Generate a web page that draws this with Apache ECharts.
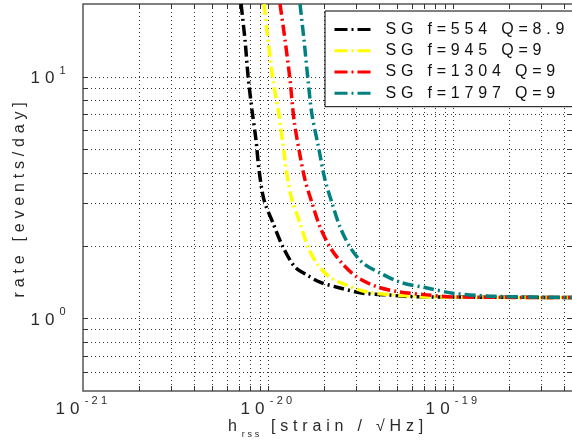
<!DOCTYPE html>
<html>
<head>
<meta charset="utf-8">
<script src="https://cdn.jsdelivr.net/npm/echarts@6/dist/echarts.min.js"></script>
<style>
html,body{margin:0;padding:0;background:#fff;}
#chart{width:572px;height:446px;}
</style>
</head>
<body>
<div id="chart"></div>
<script>
// ---- data ----
const seriesNames = ['SG f=554 Q=8.9', 'SG f=945 Q=9', 'SG f=1304 Q=9', 'SG f=1797 Q=9'];
const seriesColors = ['#000000', '#ffff00', '#ff0000', '#008080'];

const blackH = [7.15e-21, 7.51e-21, 7.80e-21, 8.19e-21, 8.61e-21, 8.94e-21, 9.51e-21, 1.064e-20, 1.205e-20, 1.399e-20, 1.625e-20, 1.910e-20, 2.450e-20, 3.263e-20, 4.398e-20, 5.641e-20, 9.63e-20, 4.45e-19];
const blackRate = [20.0, 14.2, 10.07, 7.28, 5.47, 4.11, 3.09, 2.48, 1.97, 1.63, 1.51, 1.41, 1.335, 1.27, 1.25, 1.231, 1.225, 1.219];

const yellowH = [9.51e-21, 1.0e-20, 1.064e-20, 1.147e-20, 1.205e-20, 1.267e-20, 1.348e-20, 1.489e-20, 1.645e-20, 1.864e-20, 2.163e-20, 2.673e-20, 3.429e-20, 4.740e-20, 7.51e-20, 4.45e-19];
const yellowRate = [20.0, 14.2, 9.69, 6.94, 5.22, 3.92, 3.09, 2.48, 1.97, 1.66, 1.48, 1.37, 1.285, 1.25, 1.225, 1.219];

const redH = [1.161e-20, 1.236e-20, 1.315e-20, 1.382e-20, 1.471e-20, 1.585e-20, 1.729e-20, 1.910e-20, 2.163e-20, 2.512e-20, 3.028e-20, 3.883e-20, 5.170e-20, 7.236e-20, 1.0e-19, 4.45e-19];
const redRate = [20.0, 14.2, 9.69, 6.62, 4.97, 3.74, 3.00, 2.39, 1.97, 1.69, 1.48, 1.35, 1.285, 1.25, 1.225, 1.219];

const tealH = [1.489e-20, 1.565e-20, 1.645e-20, 1.729e-20, 1.864e-20, 2.033e-20, 2.218e-20, 2.450e-20, 2.775e-20, 3.263e-20, 4.031e-20, 5.170e-20, 7.236e-20, 1.0e-19, 1.508e-19, 2.608e-19, 4.45e-19];
const tealRate = [20.0, 14.2, 9.69, 6.94, 5.22, 3.74, 3.00, 2.39, 1.97, 1.69, 1.54, 1.41, 1.335, 1.27, 1.237, 1.225, 1.219];

// axis ranges and grid / tick values
const xRange = [1e-21, 4.45e-19];
const yRange = [0.5, 20];
const xGridValues = [2e-21, 3e-21, 4e-21, 5e-21, 6e-21, 7e-21, 8e-21, 9e-21, 1e-20, 2e-20, 3e-20, 4e-20, 5e-20, 6e-20, 7e-20, 8e-20, 9e-20, 1e-19, 2e-19, 3e-19, 4e-19];
const yGridValues = [0.6, 0.7, 0.8, 0.9, 1, 2, 3, 4, 5, 6, 7, 8, 9, 10];

const xTitle = '{h|h}{sub|rss}{t| [strain / √Hz]}';
const yTitle = 'rate [events/day]';

// ECharts rounds to at most 20 decimals, so strain is handed to the
// library in units of 1e-21 (labels add the exponent back).
const X_UNIT_EXP = -21;
const toAxis = v => v / Math.pow(10, X_UNIT_EXP);

// ---- letter spacing like the original (wide-set text) ----
(function () {
  const P = CanvasRenderingContext2D.prototype;
  if (!('letterSpacing' in P)) return;
  function sp(ctx) {
    const m = /(\d+(?:\.\d+)?)px/.exec(ctx.font);
    const fs = m ? parseFloat(m[1]) : 12;
    return (fs * 0.3).toFixed(2) + 'px';
  }
  const ft = P.fillText, mt = P.measureText;
  P.fillText = function (t, x, y, w) {
    this.letterSpacing = sp(this);
    return w === undefined ? ft.call(this, t, x, y) : ft.call(this, t, x, y, w);
  };
  P.measureText = function (t) {
    this.letterSpacing = sp(this);
    return mt.call(this, t);
  };
})();

const FONT = '"Liberation Sans", Arial, Helvetica, sans-serif';
const TXT = '#2a2a2a';

function powLabel(v, offset) {
  const l = Math.log10(v);
  const e = Math.round(l);
  if (Math.abs(l - e) > 1e-6) return '';
  return '{b|10}{s|' + (e + offset) + '}';
}
const powRich = {
  b: {fontSize: 17, fontFamily: FONT, color: TXT, verticalAlign: 'bottom', lineHeight: 26},
  s: {fontSize: 11, fontFamily: FONT, color: TXT, verticalAlign: 'top'}
};

const gridStroke = '#333333';
function xGridItem(params, api) {
  const cs = params.coordSys;
  const x = Math.round(api.coord([api.value(0), api.value(1)])[0]) + 0.5;
  const top = cs.y, bot = cs.y + cs.height;
  return {type: 'group', children: [
    {type: 'line', shape: {x1: x, y1: top, x2: x, y2: bot}, style: {stroke: gridStroke, lineWidth: 1, lineDash: [1, 3]}},
    {type: 'line', shape: {x1: x, y1: bot, x2: x, y2: bot - 5}, style: {stroke: gridStroke, lineWidth: 1}},
    {type: 'line', shape: {x1: x, y1: top, x2: x, y2: top + 5}, style: {stroke: gridStroke, lineWidth: 1}}
  ]};
}
function yGridItem(params, api) {
  const cs = params.coordSys;
  const y = Math.round(api.coord([api.value(0), api.value(1)])[1]) + 0.5;
  const l = cs.x, r = cs.x + cs.width;
  return {type: 'group', children: [
    {type: 'line', shape: {x1: l, y1: y, x2: r, y2: y}, style: {stroke: gridStroke, lineWidth: 1, lineDash: [1, 3]}},
    {type: 'line', shape: {x1: l, y1: y, x2: l + 5, y2: y}, style: {stroke: gridStroke, lineWidth: 1}},
    {type: 'line', shape: {x1: r, y1: y, x2: r - 5, y2: y}, style: {stroke: gridStroke, lineWidth: 1}}
  ]};
}

const curves = [[blackH, blackRate], [yellowH, yellowRate], [redH, redRate], [tealH, tealRate]];
const lineSeries = curves.map((c, i) => ({
  type: 'line',
  name: seriesNames[i],
  data: c[0].map((h, k) => [toAxis(h), c[1][k]]),
  showSymbol: false,
  symbol: 'none',
  smooth: 0.3,
  clip: true,
  z: 5 + i,
  lineStyle: {color: seriesColors[i], width: 3.5, type: [11, 4, 2, 4]},
  itemStyle: {color: seriesColors[i]}
}));

const chart = echarts.init(document.getElementById('chart'), null, {renderer: 'canvas'});
chart.setOption({
  animation: false,
  backgroundColor: '#ffffff',
  textStyle: {fontFamily: FONT},
  grid: {left: 83, right: -1, top: 4, bottom: 55, outerBoundsMode: 'none', containLabel: false,
    show: true, borderColor: '#555', borderWidth: 1.5, backgroundColor: '#fff'},
  legend: {
    data: seriesNames,
    orient: 'vertical',
    left: 325, top: 11,
    backgroundColor: '#fff',
    borderColor: '#000', borderWidth: 1, borderRadius: 0,
    padding: [8, 6, 3, 8],
    itemWidth: 36, itemHeight: 14, itemGap: 0.5,
    itemStyle: {opacity: 0},
    lineStyle: {width: 3, type: [13, 4, 2, 4]},
    textStyle: {fontSize: 16, lineHeight: 16, fontFamily: FONT, color: '#111', padding: [0, 0, 0, 10]},
    selectedMode: false
  },
  xAxis: {
    type: 'log', logBase: 10, min: toAxis(xRange[0]), max: toAxis(xRange[1]),
    axisLine: {show: false}, axisTick: {show: false}, splitLine: {show: false},
    axisLabel: {margin: 3, formatter: v => powLabel(v, X_UNIT_EXP), rich: powRich, showMaxLabel: false},
    name: xTitle, nameLocation: 'middle', nameGap: 25, nameMoveOverlap: false,
    nameTextStyle: {
      rich: {
        h: {fontSize: 16, fontFamily: FONT, color: TXT, verticalAlign: 'top', lineHeight: 24},
        t: {fontSize: 16, fontFamily: FONT, color: TXT, verticalAlign: 'top', lineHeight: 24},
        sub: {fontSize: 9, fontFamily: FONT, color: TXT, verticalAlign: 'bottom'}
      }
    }
  },
  yAxis: {
    type: 'log', logBase: 10, min: yRange[0], max: yRange[1],
    axisLine: {show: false}, axisTick: {show: false}, splitLine: {show: false},
    axisLabel: {margin: 14, formatter: v => powLabel(v, 0), rich: powRich},
    name: yTitle, nameLocation: 'middle', nameGap: 53, nameMoveOverlap: false,
    nameTextStyle: {fontSize: 16, fontFamily: FONT, color: TXT}
  },
  series: [
    {type: 'custom', name: 'xgrid', coordinateSystem: 'cartesian2d', silent: true, z: 1,
      data: xGridValues.map(v => [toAxis(v), 1]), renderItem: xGridItem},
    {type: 'custom', name: 'ygrid', coordinateSystem: 'cartesian2d', silent: true, z: 1,
      data: yGridValues.map(v => [10, v]), renderItem: yGridItem}
  ].concat(lineSeries)
});
</script>
</body>
</html>
